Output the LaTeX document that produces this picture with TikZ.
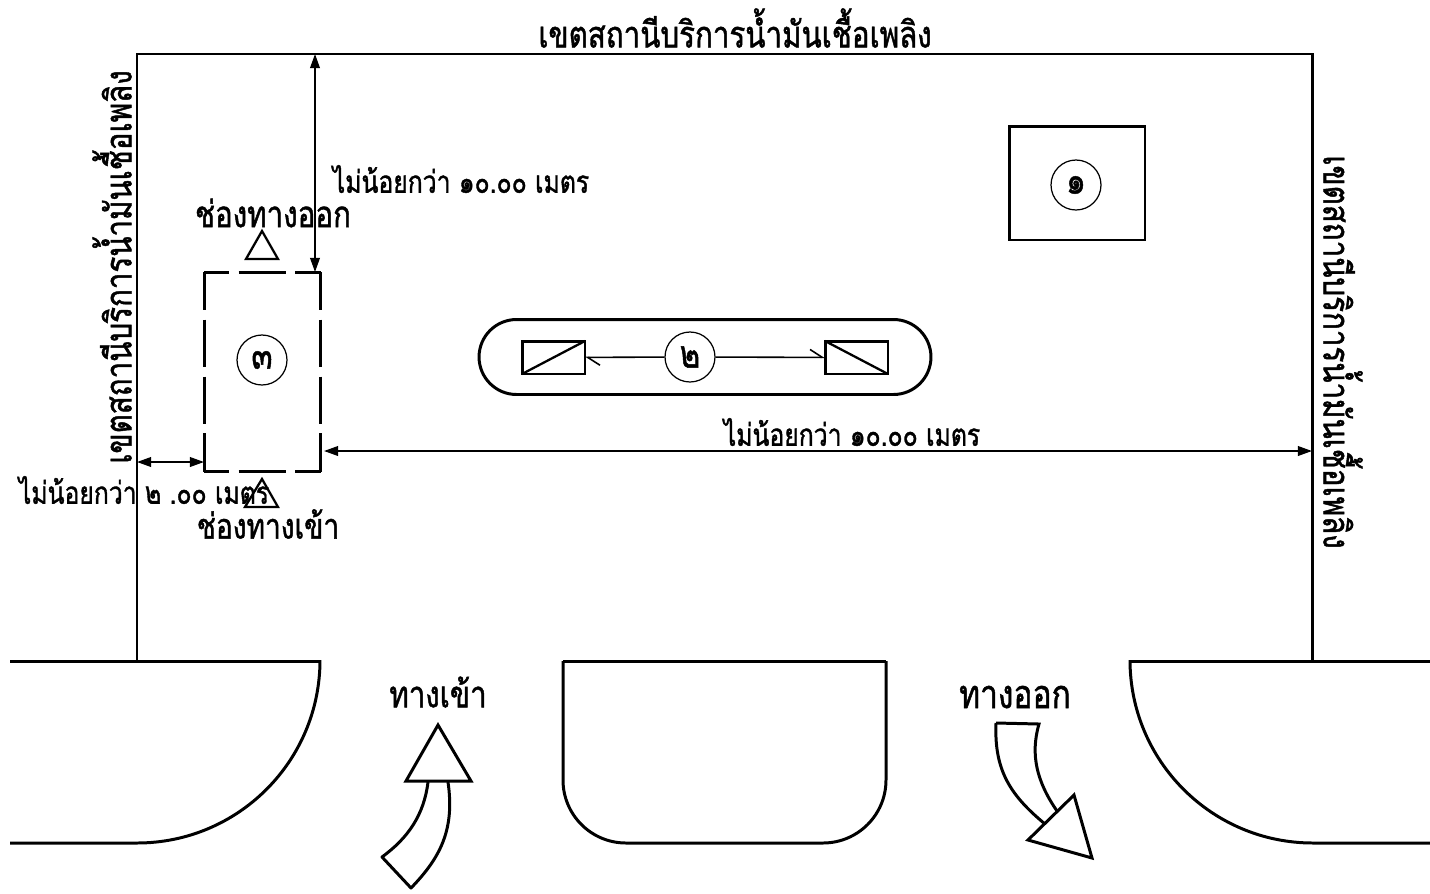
\documentclass[tikz,border=0pt]{standalone}
\usepackage{fontspec}
\newfontfamily\thaifont[Script=Thai,FakeStretch=0.8,FakeBold=1.2]{Loma}
\usetikzlibrary{arrows.meta}
\tikzset{
    wall/.style={line width=1.7pt,line join=miter},
    thin line/.style={line width=0.9pt},
    dim line/.style={line width=0.9pt,{Triangle[length=8pt,width=5.5pt]}-{Triangle[length=8pt,width=5.5pt]}},
    number/.style={circle,draw,line width=0.7pt,minimum size=1cm,inner sep=0,font=\thaifont\fontsize{22}{24}\selectfont},
    biglabel/.style={inner sep=0,font=\thaifont\fontsize{21}{24}\selectfont},
    smalllabel/.style={inner sep=0,font=\thaifont\fontsize{17.6}{20}\selectfont},
    tank/.style={draw,wall,inner sep=0,outer sep=0,minimum width=1.26cm,minimum height=0.66cm},
    lotside/.style={wall,line cap=butt,dash pattern=on 0.95cm off 0.19cm,dash phase=#1}
}
\begin{document}
\begin{tikzpicture}[x=0.02cm,y=-0.02cm]
    \useasboundingbox (0,0) rectangle (1430,893);
    \pgfmathsetmacro{\roadradius}{3.66}
    % site boundary and road
    \draw[wall] (137,661) -- (137,54) -- (1312,54) -- (1312,661);
    \draw[wall] (10,661) -- (320,661);
    \draw[wall,rounded corners=\roadradius cm] (320,661) -- (320,843) -- (10,843);
    \draw[wall] (1430,661) -- (1130,661);
    \draw[wall,rounded corners=\roadradius cm] (1130,661) -- (1130,843) -- (1430,843);
    \draw[wall,rounded corners=1.26cm] (563,661) -- (563,843) -- (886,843) -- (886,661);
    \draw[wall] (563,661) -- (886,661);
    % building
    \node[draw,wall,minimum width=2.72cm,minimum height=2.28cm,inner sep=0] (shop) at (1077,183) {};
    \node[number] (c1) at (1076,185) {๑};
    % pump island
    \node[draw,wall,rounded corners=0.75cm,minimum width=9.04cm,minimum height=1.5cm,inner sep=0] (island) at (705,357) {};
    \node[tank] (pumpl) at (553.5,357.5) {};
    \node[tank] (pumpr) at (856.5,357.5) {};
    \draw[wall,line width=1.3pt] (pumpl.south west) -- (pumpl.north east);
    \draw[wall,line width=1.3pt] (pumpr.north west) -- (pumpr.south east);
    \node[number] (c2) at (690,357) {๒};
    \draw[thin line,-{Straight Barb[left,length=7pt,width=9pt]}] (c2) -- (pumpl);
    \draw[thin line,-{Straight Barb[left,length=7pt,width=9pt]}] (c2) -- (pumpr);
    % fill lot
    \node[minimum width=2.34cm,minimum height=4cm,inner sep=0,outer sep=0] (lot) at (262.5,372) {};
    \draw[lotside=0.45cm] (lot.north west) -- (lot.north east);
    \draw[lotside=0.45cm] (lot.south west) -- (lot.south east);
    \draw[lotside=0.19cm] (lot.north west) -- (lot.south west);
    \draw[lotside=0.19cm] (lot.north east) -- (lot.south east);
    \node[number] (c3) at (262,360) {๓};
    \draw[wall,line width=1.3pt] (262,231) -- (278,259) -- (246,259) -- cycle;
    \draw[wall,line width=1.3pt] (262,479) -- (278,507) -- (245,507) -- cycle;
    % distances
    \coordinate (top) at (315,54);
    \coordinate (lottop) at (315,272);
    \coordinate (lotright) at (324,451);
    \coordinate (right) at (1312,451);
    \coordinate (left) at (137,462);
    \coordinate (lotleft) at (204,462);
    \draw[dim line] (top) -- (lottop);
    \draw[dim line] (lotright) -- (right);
    \draw[dim line] (left) -- (lotleft);
    % entry and exit arrows
    \draw[wall] (438,725) -- (471,781) -- (406,781) -- cycle;
    \draw[wall,line join=round] (428,782) .. controls (424,815) and (408,838) .. (382,857) -- (411,888) .. controls (440,858) and (455,830) .. (448,782);
    \draw[wall] (1074,795) -- (1092,858) -- (1028,840) -- cycle;
    \draw[wall] (996,723) -- (1039,724) .. controls (1030,755) and (1037,782) .. (1057,811);
    \draw[wall] (996,723) .. controls (994,770) and (1010,795) .. (1045,824);
    % labels
    \node[biglabel] (title) at (735,28) {เขตสถานีบริการน้ำมันเชื้อเพลิง};
    \node[biglabel,rotate=90] (westlabel) at (112,267) {เขตสถานีบริการน้ำมันเชื้อเพลิง};
    \node[biglabel,rotate=-90] (eastlabel) at (1343,352) {เขตสถานีบริการน้ำมันเชื้อเพลิง};
    \node[smalllabel] (dimtop) at (461,179) {ไม่น้อยกว่า ๑๐.๐๐ เมตร};
    \node[smalllabel] (dimright) at (852,432) {ไม่น้อยกว่า ๑๐.๐๐ เมตร};
    \node[smalllabel] (dimleft) at (144,490) {ไม่น้อยกว่า ๒ .๐๐ เมตร};
    \node[biglabel] (lotout) at (273,213) {ช่องทางออก};
    \node[biglabel,font=\thaifont\fontsize{20}{24}\selectfont] (lotin) at (268,524) {ช่องทางเข้า};
    \node[biglabel] (entry) at (438,692) {ทางเข้า};
    \node[biglabel,font=\thaifont\fontsize{22.6}{24}\selectfont] (exit) at (1015,697) {ทางออก};
\end{tikzpicture}
\end{document}
